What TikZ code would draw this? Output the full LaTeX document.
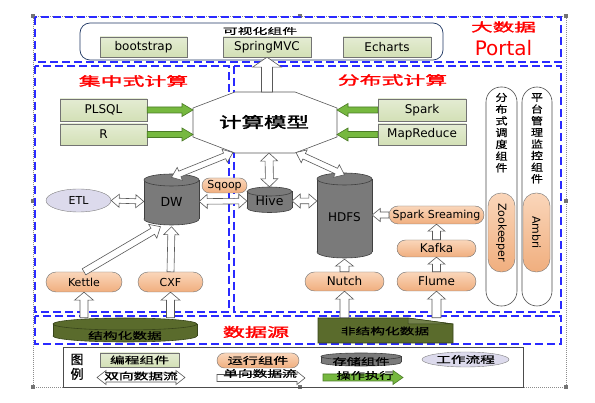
\documentclass[tikz,border=0pt]{standalone}
\usepackage{fontspec}
\newfontfamily\cjk[FakeBold=0.6]{Noto Sans CJK SC}
\newfontfamily\cjkb[FakeBold=1.6]{Noto Sans CJK SC}
\newfontfamily\lat{DejaVu Sans}
\usetikzlibrary{calc,shapes.geometric,shapes.misc}
\definecolor{dblue}{HTML}{2A2AFF}
\definecolor{navyb}{HTML}{203864}
\definecolor{boxgreen}{HTML}{D3E0B6}
\definecolor{boxgreenT}{HTML}{E4ECD3}
\definecolor{pillT}{HTML}{FAD6BA}
\definecolor{pillB}{HTML}{F0AE7E}
\definecolor{arrgreen}{HTML}{76B83F}
\definecolor{arrgreenD}{HTML}{4B7B26}
\definecolor{cylgray}{HTML}{7A7A7A}
\definecolor{cylline}{HTML}{404040}
\definecolor{olive}{HTML}{5A6B2C}
\definecolor{oliveD}{HTML}{37441A}
\definecolor{lav}{HTML}{DCDAEC}
\definecolor{redt}{HTML}{FF0000}

\newcommand\cn[3]{{\fontsize{#1pt}{#1pt}\selectfont\cjk\scalebox{#2}[1]{#3}}}
\newcommand\cnb[3]{{\fontsize{#1pt}{#1pt}\selectfont\cjkb\scalebox{#2}[1]{#3}}}

% single hollow block arrow: [style]{from}{to}{shaft half}{head half}{head length}
\newcommand\sarrow[6][]{%
 \filldraw[hollow,#1] ($(#2)!#4!90:(#3)$) -- ($(#3)!#6!(#2)!#4!90:(#3)$) -- ($(#3)!#6!(#2)!#5!90:(#3)$) -- (#3) -- ($(#3)!#6!(#2)!#5!-90:(#3)$) -- ($(#3)!#6!(#2)!#4!-90:(#3)$) -- ($(#2)!#4!-90:(#3)$) -- cycle;}
% double hollow block arrow
\newcommand\darrow[6][]{%
 \filldraw[hollow,#1] (#2) -- ($(#2)!#6!(#3)!#5!90:(#3)$) -- ($(#2)!#6!(#3)!#4!90:(#3)$) -- ($(#3)!#6!(#2)!#4!90:(#3)$) -- ($(#3)!#6!(#2)!#5!90:(#3)$) -- (#3) -- ($(#3)!#6!(#2)!#5!-90:(#3)$) -- ($(#3)!#6!(#2)!#4!-90:(#3)$) -- ($(#2)!#6!(#3)!#4!-90:(#3)$) -- ($(#2)!#6!(#3)!#5!-90:(#3)$) -- cycle;}
% cylinder: [line]{x1}{x2}{ytop}{ybot}{ry}{fill}
\newcommand\cyl[7][cylline]{%
 \filldraw[fill=#7, draw=#1, line width=0.6pt] ({(#2+#3)/2},#5) ellipse [x radius={(#3-#2)/2}, y radius=#6];
 \fill[#7] (#2,#4) rectangle (#3,#5);
 \draw[#1, line width=0.6pt] (#2,#4) -- (#2,#5) (#3,#4) -- (#3,#5);
 \filldraw[fill=#7, draw=#1, line width=0.6pt] ({(#2+#3)/2},#4) ellipse [x radius={(#3-#2)/2}, y radius=#6];}

\begin{document}
\begin{tikzpicture}[x=1pt,y=-1pt,
  hollow/.style={fill=white, draw=black!65, line width=0.6pt, line join=miter},
  garrow/.style={fill=arrgreen, draw=arrgreenD},
  bdash/.style={draw=dblue, line width=1.1pt, dash pattern=on 8pt off 4pt},
  latf/.style={font=\fontsize{#1pt}{#1pt}\selectfont\lat},
  prog/.style={draw=black!55, top color=boxgreenT, bottom color=boxgreen, inner sep=0pt, minimum height=20pt, latf=12},
  run/.style={rounded rectangle, draw=black!55, top color=pillT, bottom color=pillB, inner sep=0pt, latf=12},
  vbox/.style={draw=black!70, fill=white, rounded corners=15pt, line width=0.6pt, inner sep=0pt},
  vpill/.style={draw=black!55, top color=pillT, bottom color=pillB, rounded corners=13pt, inner sep=0pt},
  cnode/.style={inner sep=0pt},
]
\useasboundingbox (0,0) rectangle (595,403);
\fill[white] (0,0) rectangle (595,403);

% frame with handles
\draw[black!45, dash pattern=on 1pt off 1pt, line width=0.5pt] (33,16) rectangle (566,387);
\foreach \hx/\hy in {33/16,299.5/16,566/16,33/201.5,566/201.5,33/387,299.5/387,566/387}
  \fill[black!55] (\hx-2,\hy-2) rectangle (\hx+2,\hy+2);

% dashed regions
\draw[bdash] (35,17) rectangle (561,62);
\draw[bdash] (35,66) rectangle (229,312);
\draw[bdash] (234,66) rectangle (561,312);
\draw[bdash] (35,316) rectangle (561,344);

% portal
\draw[navyb, line width=0.7pt, rounded corners=10pt] (80,23) rectangle (443,60);
\node[cnode] (vislabel) at (260,31) {\cn{8.5}{1.75}{可视化组件}};
\node[prog, minimum width=87] (bootstrap) at (143.5,47) {bootstrap};
\node[prog, minimum width=88] (springmvc) at (267,47) {SpringMVC};
\node[prog, minimum width=88] (echarts) at (387,47) {Echarts};
\node[cnode, text=redt] (bigdata) at (503.5,27) {\cnb{12}{1.8}{大数据}};
\node[cnode, text=redt, latf=20] (portal) at (503.5,48) {Portal};

% headings
\node[cnode, text=redt] (central) at (133.5,81) {\cnb{12.5}{1.75}{集中式计算}};
\node[cnode, text=redt] (distrib) at (392.5,80) {\cnb{12.5}{1.75}{分布式计算}};

% compute model octagon
\draw[black!65, fill=white, line width=0.6pt] (193,108) -- (235,92) -- (295,92) -- (337,108) -- (337,137) -- (295,153) -- (235,153) -- (193,137) -- cycle;
\node[cnode] (model) at (264,122) {\cnb{15}{1.5}{计算模型}};
\coordinate (oT) at (267,92);
\coordinate (oBL) at (233,152.5);
\coordinate (oB) at (269,153);
\coordinate (oBR) at (296,152.5);
\coordinate (oL1) at (193,110);
\coordinate (oL2) at (193,134.5);
\coordinate (oR1) at (337,110);
\coordinate (oR2) at (337,134.5);

\sarrow{oT}{springmvc.south}{5.5pt}{14.5pt}{10pt}

% programming components
\node[prog, minimum width=87, minimum height=22] (plsql) at (103.5,110) {PLSQL};
\node[prog, minimum width=87, minimum height=21] (rbox) at (103.5,134.5) {R};
\node[prog, minimum width=88, minimum height=22] (spark) at (422,110) {Spark};
\node[prog, minimum width=88, minimum height=21] (mapreduce) at (422,134.5) {MapReduce};
\sarrow[garrow]{plsql.east}{oL1}{3pt}{6.5pt}{11pt}
\sarrow[garrow]{rbox.east}{oL2}{3pt}{6.5pt}{11pt}
\sarrow[garrow]{spark.west}{oR1}{3pt}{6.5pt}{11pt}
\sarrow[garrow]{mapreduce.west}{oR2}{3pt}{6.5pt}{11pt}

% storage cylinders
\cyl{144}{199}{180}{219}{6}{cylgray}
\node[cnode, minimum width=55, minimum height=48, latf=12.5] (dw) at (171.5,201.5) {DW};
\cyl{247}{292}{191.5}{208}{4.5}{cylgray}
\node[cnode, minimum width=45, minimum height=28, latf=12.5] (hive) at (269.5,201) {Hive};
\cyl{317}{372}{179}{252}{6}{cylgray}
\node[cnode, minimum width=55, minimum height=84, latf=12] (hdfs) at (344.5,217) {HDFS};

% ETL, sqoop
\node[ellipse, draw=black!50, fill=lav, minimum width=65, minimum height=23, inner sep=0pt, latf=11] (etl) at (78.5,200.5) {ETL};
\node[run, minimum width=45, minimum height=15, latf=11] (sqoop) at (224.5,185.5) {Sqoop};

% running components
\node[run, minimum width=76, minimum height=20, latf=11] (kettle) at (84,282) {Kettle};
\node[run, minimum width=65, minimum height=20, latf=11] (cxf) at (170.5,282) {CXF};
\node[run, minimum width=79, minimum height=19] (nutch) at (344.5,281.5) {Nutch};
\node[run, minimum width=79, minimum height=19] (flume) at (436.5,281.5) {Flume};
\node[run, minimum width=79, minimum height=17] (kafka) at (436.5,248.5) {Kafka};
\node[run, minimum width=95, minimum height=18, latf=11] (ssr) at (436.5,215) {Spark Sreaming};

% data sources
\cyl[oliveD]{53}{197}{324}{336}{6}{olive}
\node[cnode, minimum width=144, minimum height=24] (sdata) at (125,330) {};
\node[cnode] (sdatal) at (125,335.5) {\cn{9.5}{1.55}{结构化数据}};
\filldraw[fill=olive, draw=oliveD, line width=0.6pt] (318,318) -- (408,318) -- (453,324) -- (453,343) -- (318,343) -- cycle;
\filldraw[fill=olive!85!white, draw=oliveD, line width=0.5pt] (408,318) -- (453,324) -- (408,324) -- cycle;
\node[cnode, minimum width=135, minimum height=25] (udata) at (385.5,330.5) {};
\node[cnode] (udatal) at (385,331) {\cn{9.5}{1.55}{非结构化数据}};
\node[cnode, text=redt] (dsrc) at (256,332) {\cnb{13}{1.7}{数据源}};

% connectors
\coordinate (dwk) at ($(dw.south)+(-11,1)$);
\coordinate (dwc) at ($(dw.south)+(0,1)$);
\coordinate (hh) at (hive.east -| hdfs.west);
\coordinate (ssh) at (ssr.west -| hdfs.east);
\coordinate (sd1) at (kettle.south |- sdata.north);
\coordinate (sd2) at (cxf.south |- sdata.north);
\coordinate (ud1) at (nutch.south |- udata.north);
\coordinate (ud2) at (flume.south |- udata.north);

\darrow{etl.east}{dw.west}{2.5pt}{6.5pt}{8pt}
\darrow{dw.east}{hive.west}{2.8pt}{7pt}{8pt}
\darrow{hive.east}{hh}{2.8pt}{7pt}{8pt}
\darrow{oBL}{dw.north}{3pt}{7pt}{9pt}
\darrow{oB}{hive.north}{4pt}{8.5pt}{8pt}
\darrow{oBR}{hdfs.north}{3pt}{7pt}{9pt}
\sarrow{kettle.north}{dwk}{3.5pt}{8pt}{9pt}
\sarrow{cxf.north}{dwc}{3.5pt}{7.5pt}{8pt}
\sarrow{nutch.north}{hdfs.south}{4.5pt}{9pt}{7pt}
\sarrow{flume.north}{kafka.south}{4pt}{8.5pt}{7pt}
\sarrow{kafka.north}{ssr.south}{4pt}{8.5pt}{7pt}
\sarrow{ssr.west}{ssh}{3pt}{6.5pt}{8pt}
\sarrow{sd1}{kettle.south}{4pt}{9.5pt}{8pt}
\sarrow{sd2}{cxf.south}{4pt}{9.5pt}{8pt}
\sarrow{ud1}{nutch.south}{4.5pt}{9pt}{8pt}
\sarrow{ud2}{flume.south}{4.5pt}{9pt}{8pt}

% right column: coordination and monitoring
\node[vbox, minimum width=31, minimum height=219] (schedbox) at (501.5,196.5) {};
\node[vbox, minimum width=30, minimum height=219] (monbox) at (537,196.5) {};
\foreach \ch [count=\i from 0] in {分,布,式,调,度,组,件}
  \node[cnode] (sch\i) at (501.5,{97.5+11.7*\i}) {\cn{10}{1.2}{\ch}};
\foreach \ch [count=\i from 0] in {平,台,管,理,监,控,组,件}
  \node[cnode] (mon\i) at (537,{97.5+11.6*\i}) {\cn{10}{1.2}{\ch}};
\node[vpill, minimum width=27, minimum height=79] (zk) at (501.5,232.5) {};
\node[cnode, rotate=-90, latf=11] (zkl) at (zk) {Zookeeper};
\node[vpill, minimum width=27, minimum height=79] (ambri) at (536.5,232.5) {};
\node[cnode, rotate=-90, latf=11] (ambril) at (ambri) {Ambri};

% legend
\draw[black!70, line width=0.8pt] (63,347) rectangle (523,387);
\node[cnode] (lg1) at (77,359.5) {\cn{13}{1}{图}};
\node[cnode] (lg2) at (77,374) {\cn{13}{1}{例}};
\node[prog, minimum width=79, minimum height=14] (lprog) at (139.5,360) {\cn{9.5}{1.55}{编程组件}};
\node[run, minimum width=82, minimum height=15] (lrun) at (258,360.5) {\cn{9.5}{1.6}{运行组件}};
\cyl{321}{401}{356.5}{362.5}{3.5}{cylgray}
\node[cnode] (lstore) at (361,361.5) {\cn{9.5}{1.5}{存储组件}};
\node[ellipse, draw=black!50, fill=lav, minimum width=87, minimum height=15, inner sep=0pt] (lflow) at (465.5,359.5) {\cn{9.5}{1.55}{工作流程}};
\coordinate (la1) at (97,377.5);
\coordinate (la2) at (185,377.5);
\coordinate (lb1) at (217,378);
\coordinate (lb2) at (305,378);
\coordinate (lc1) at (323,377.5);
\coordinate (lc2) at (403,377.5);
\darrow{la1}{la2}{4.5pt}{7pt}{9pt}
\node[cnode] (ldouble) at (141,376) {\cn{9.5}{1.55}{双向数据流}};
\sarrow{lb1}{lb2}{3.5pt}{6.5pt}{8pt}
\node[cnode] (lsingle) at (260,373.5) {\cn{9.5}{1.55}{单向数据流}};
\sarrow[garrow]{lc1}{lc2}{3.5pt}{7pt}{10pt}
\node[cnode] (lop) at (365,375.5) {\cn{9.5}{1.5}{操作执行}};
\end{tikzpicture}
\end{document}
